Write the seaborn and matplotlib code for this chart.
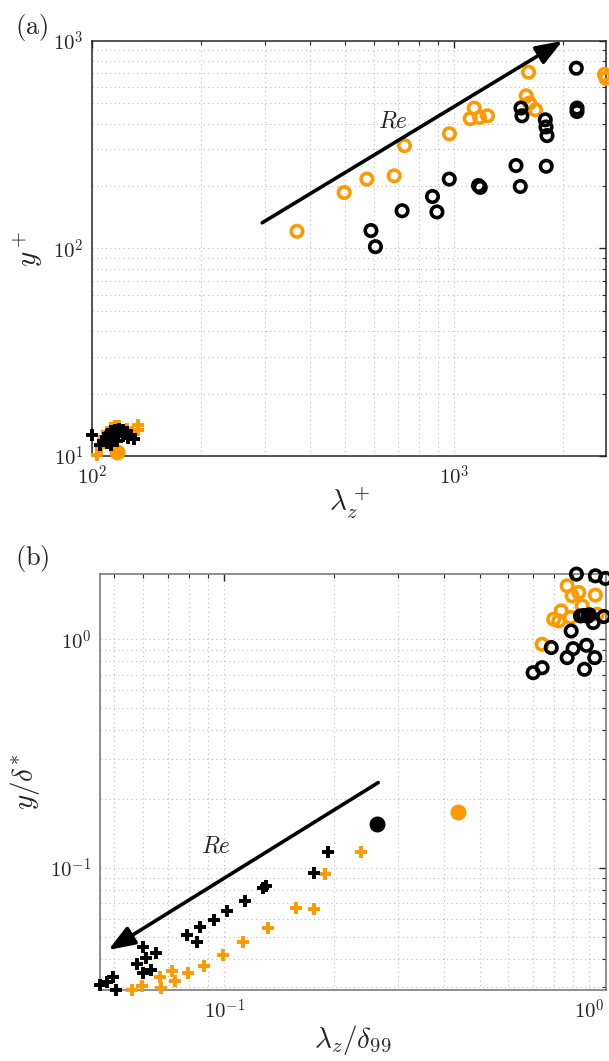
import numpy as np
import matplotlib
matplotlib.use('Agg')
import matplotlib.pyplot as plt
import matplotlib.ticker as mticker
import seaborn as sns

ORANGE = '#ff9900'
BLACK = '#000000'

# ---- panel (a): lambda_z^+ vs y^+ ----
a_ring_or_x = [368, 497, 574, 683, 729, 970, 1107, 1136, 1175, 1236, 1604, 1581, 1614, 1677, 2600, 2625]
a_ring_or_y = [121, 186, 216, 224, 313, 357, 422, 475, 428, 436, 707, 544, 502, 466, 690, 660]
a_ring_bk_x = [589, 606, 718, 871, 896, 969, 1167, 1180, 1481, 1522, 1529, 1538, 1784, 1792, 1804, 1795, 2173, 2183, 2183]
a_ring_bk_y = [122, 102, 152, 178, 150, 216, 201, 197, 251, 199, 475, 436, 417, 385, 350, 249, 739, 475, 457]
a_plus_or_x = [103, 106, 108, 110, 113, 116, 119, 125, 129, 134, 134]
a_plus_or_y = [10.1, 11.0, 12.4, 13.0, 13.7, 14.0, 13.9, 13.5, 13.0, 13.3, 14.1]
a_plus_bk_x = [100.3, 105, 107, 109, 111, 113, 116, 119, 122, 125, 128, 131, 110, 114, 118, 122, 126, 113, 117]
a_plus_bk_y = [12.6, 11.3, 11.8, 12.3, 12.8, 13.2, 13.4, 13.5, 13.4, 13.0, 12.6, 12.1, 11.6, 12.2, 12.6, 12.5, 12.2, 11.3, 11.8]
a_dot_or_x = [117]
a_dot_or_y = [10.45]
a_arrow = [(295, 133), (1990, 1000)]
a_re = (678, 412)

# ---- panel (b): lambda_z/delta_99 vs y/delta^* ----
b_ring_bk_x = [0.921, 1.038, 1.106, 0.945, 0.965, 0.99, 1.0, 1.094, 1.024, 0.891, 0.786, 0.902, 0.981, 0.869, 1.034, 0.701, 0.742, 0.969]
b_ring_bk_y = [1.928, 1.895, 1.846, 1.265, 1.27, 1.26, 1.28, 1.258, 1.184, 1.087, 0.920, 0.910, 0.941, 0.831, 0.831, 0.714, 0.751, 0.739]
b_ring_or_x = [0.869, 1.038, 0.897, 0.935, 0.955, 0.837, 0.798, 0.824, 0.887, 1.05, 0.742]
b_ring_or_y = [1.713, 1.56, 1.549, 1.603, 1.40, 1.331, 1.224, 1.203, 1.245, 1.287, 0.951]
b_plus_bk_x = [0.1924, 0.1757, 0.128, 0.130, 0.1137, 0.1017, 0.0935, 0.0856, 0.0790, 0.0845, 0.0601, 0.065,
               0.0611, 0.0577, 0.0631, 0.0601, 0.0497, 0.0477, 0.0457, 0.0506]
b_plus_bk_y = [0.1172, 0.0954, 0.0815, 0.083, 0.0719, 0.065, 0.0591, 0.0549, 0.0508, 0.0475, 0.0449, 0.0425,
               0.0402, 0.0379, 0.0359, 0.0345, 0.0334, 0.0317, 0.0307, 0.0292]
b_plus_or_x = [0.2368, 0.1891, 0.1765, 0.1575, 0.1322, 0.1129, 0.0992, 0.0883, 0.0798, 0.0719, 0.0731, 0.0668,
               0.0672, 0.0595, 0.0559]
b_plus_or_y = [0.1172, 0.0942, 0.0661, 0.0668, 0.0544, 0.0475, 0.0415, 0.0373, 0.0345, 0.0354, 0.0320, 0.0334,
               0.0297, 0.0304, 0.0292]
b_dot_bk_x, b_dot_bk_y = [0.262], [0.156]
b_dot_or_x, b_dot_or_y = [0.4375], [0.176]
b_arrow = [(0.264, 0.236), (0.0482, 0.0437)]
b_re = (0.0951, 0.125)

sns.set_theme(style='white')
plt.rcParams['mathtext.fontset'] = 'cm'
plt.rcParams['font.family'] = ['DejaVu Serif']

fig = plt.figure(figsize=(6.09, 10.61), dpi=100)
ax_a = fig.add_axes([0.1511, 0.5702, 0.8440, 0.3912])
ax_b = fig.add_axes([0.1642, 0.0669, 0.8309, 0.3921])


def rings(ax, x, y, color):
    sns.scatterplot(x=x, y=y, ax=ax, marker='o', s=68, facecolor='none', edgecolor=color,
                    linewidth=2.6, clip_on=False, zorder=3)


def pluses(ax, x, y, color):
    sns.scatterplot(x=x, y=y, ax=ax, marker='+', s=72, color=color, linewidth=2.8,
                    clip_on=False, zorder=3)


def dots(ax, x, y, color):
    sns.scatterplot(x=x, y=y, ax=ax, marker='o', s=110, facecolor=color, edgecolor=color,
                    linewidth=1, clip_on=False, zorder=3)


def style_axes(ax, xlim, ylim, xdec, ydec, spine_color):
    ax.set_xscale('log')
    ax.set_yscale('log')
    ax.set_xlim(xlim)
    ax.set_ylim(ylim)
    fmt = mticker.FuncFormatter(lambda v, p: r'$10^{%d}$' % round(np.log10(v)))
    for axis, dec in ((ax.xaxis, xdec), (ax.yaxis, ydec)):
        axis.set_major_locator(mticker.FixedLocator(dec))
        axis.set_major_formatter(fmt)
        axis.set_minor_locator(mticker.LogLocator(base=10, subs=np.arange(2, 10), numticks=20))
        axis.set_minor_formatter(mticker.NullFormatter())
    ax.set_axisbelow(True)
    ax.grid(True, which='both', linestyle=(0, (1, 3)), color='#bcbcbc', linewidth=0.8)
    ax.tick_params(which='both', direction='in', top=True, right=True, color='#262626',
                   labelsize=15, labelcolor='#262626', pad=6)
    ax.tick_params(which='major', length=5, width=1)
    ax.tick_params(which='minor', length=3, width=0.8)
    for sp in ax.spines.values():
        sp.set_color(spine_color)
        sp.set_linewidth(1.1)


def arrow(ax, tail, tip, re_pos):
    ax.annotate('', xy=tip, xytext=tail,
                arrowprops=dict(arrowstyle='-|>,head_length=0.8,head_width=0.3', lw=2.6,
                                color='black', shrinkA=0, shrinkB=0, mutation_scale=20))
    ax.text(re_pos[0], re_pos[1], r'$Re$', fontsize=17, ha='center', va='center')


# panel (a)
rings(ax_a, a_ring_or_x, a_ring_or_y, ORANGE)
rings(ax_a, a_ring_bk_x, a_ring_bk_y, BLACK)
pluses(ax_a, a_plus_or_x, a_plus_or_y, ORANGE)
dots(ax_a, a_dot_or_x, a_dot_or_y, ORANGE)
pluses(ax_a, a_plus_bk_x, a_plus_bk_y, BLACK)
arrow(ax_a, a_arrow[0], a_arrow[1], a_re)
style_axes(ax_a, (100, 2625), (10, 1000), [1e2, 1e3], [1e1, 1e2, 1e3], '#262626')
ax_a.set_xlabel(r'$\lambda_z^+$', fontsize=21, labelpad=-2)
ax_a.set_ylabel(r'$y^+$', fontsize=21, labelpad=6)

# panel (b)
rings(ax_b, b_ring_or_x, b_ring_or_y, ORANGE)
rings(ax_b, b_ring_bk_x, b_ring_bk_y, BLACK)
pluses(ax_b, b_plus_or_x, b_plus_or_y, ORANGE)
pluses(ax_b, b_plus_bk_x, b_plus_bk_y, BLACK)
dots(ax_b, b_dot_bk_x, b_dot_bk_y, BLACK)
dots(ax_b, b_dot_or_x, b_dot_or_y, ORANGE)
arrow(ax_b, b_arrow[0], b_arrow[1], b_re)
style_axes(ax_b, (0.0457, 1.11), (0.0292, 1.93), [1e-1, 1e0], [1e-1, 1e0], '#707070')
ax_b.set_xlabel(r'$\lambda_z/\delta_{99}$', fontsize=21, labelpad=0)
ax_b.set_ylabel(r'$y/\delta^{*}$', fontsize=21, labelpad=6)

fig.text(15 / 609, 1 - 12 / 1061, r'$\mathrm{(a)}$', fontsize=19, ha='left', va='top')
fig.text(15 / 609, 1 - 543 / 1061, r'$\mathrm{(b)}$', fontsize=19, ha='left', va='top')

fig.savefig('out.png', dpi=100)
